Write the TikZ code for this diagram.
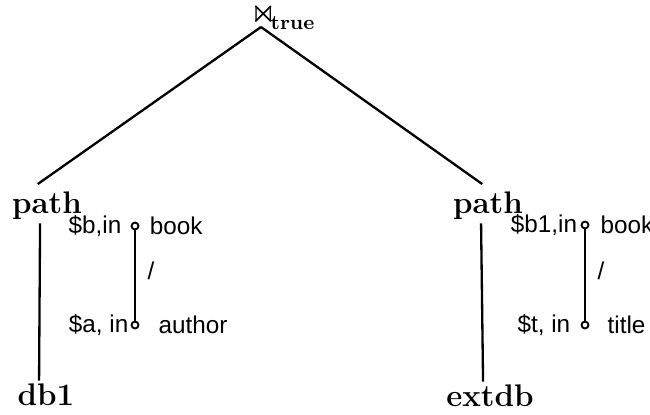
\documentclass[tikz,border=0pt]{standalone}
\usepackage{amsmath,amssymb}
\usepackage{fontspec}
\newfontfamily\arial{Liberation Sans}
\usetikzlibrary{positioning}

\begin{document}
\begin{tikzpicture}[x=0.0152cm,y=-0.0152cm,line width=1pt,
  op/.style={font=\fontsize{13.5}{16}\selectfont\bfseries,inner sep=1pt},
  pnode/.style={circle,draw,line width=0.8pt,inner sep=0pt,minimum size=3pt},
  plbl/.style={font=\arial\fontsize{10.5}{12}\selectfont,inner sep=0pt}]

        \useasboundingbox (0,0) rectangle (650,414);

        % join and its two inputs
        \node[inner sep=0pt,anchor=base west] (join) at (249,22)
          {\Large$\Join$\hspace{-2.5pt}\raisebox{-3.2pt}{\fontsize{8.8}{10}\selectfont\bfseries true}};
        \coordinate (apex) at (261,27);

        \node[op] (pathL) at (47,206) {path};
        \node[op] (pathR) at (488,206) {path};
        \node[op] (db1) at (46,395) {db1};
        \node[op] (extdb) at (490,396) {extdb};

        \draw (apex) -- ([xshift=-4pt,yshift=2pt]pathL.north);
        \draw (apex) -- ([xshift=-2.5pt,yshift=2pt]pathR.north);
        \draw ([xshift=-3pt]pathL.south) -- ([xshift=-3pt]db1.north);
        \draw ([xshift=-3pt]pathR.south) -- ([xshift=-3pt]extdb.north);

        % path expressions
        \node[pnode] (bL) at (135,226) {};
        \node[pnode] (aL) at (135,325) {};
        \node[plbl] (vbL) [left = 3.5pt of bL] {\$b,in};
        \node[plbl] (tbL) [right = 4pt of bL] {book};
        \node[plbl] (vaL) [left = 0.5pt of aL] {\$a, in};
        \node[plbl] (taL) [right = 7.8pt of aL] {author};
        \draw (bL) -- node[plbl,pos=0.45,right=5pt] {/} (aL);

        \node[pnode] (bR) at (585,225) {};
        \node[pnode] (tR) at (585,325) {};
        \node[plbl] (vbR) [left = 1pt of bR] {\$b1,in};
        \node[plbl] (tbR) [right = 4.3pt of bR] {book};
        \node[plbl] (vtR) [left = 4pt of tR] {\$t, in};
        \node[plbl] (ttR) [right = 7.4pt of tR] {title};
        \draw (bR) -- node[plbl,pos=0.45,right=5pt] {/} (tR);
\end{tikzpicture}
\end{document}
